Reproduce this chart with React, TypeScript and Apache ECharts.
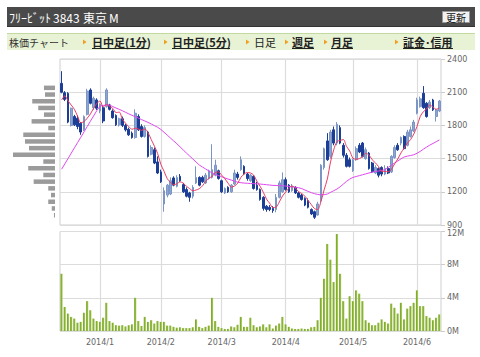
import React, { useEffect, useRef } from "react";
import * as echarts from "echarts";

const dates = [
  "2013/12/12","2013/12/13","2013/12/16","2013/12/17","2013/12/18","2013/12/19","2013/12/20","2013/12/24","2013/12/25","2013/12/26","2013/12/27","2013/12/30",
  "2014/1/6","2014/1/7","2014/1/8","2014/1/9","2014/1/10","2014/1/14","2014/1/15","2014/1/16","2014/1/17","2014/1/20","2014/1/21","2014/1/22","2014/1/23","2014/1/24","2014/1/27","2014/1/28","2014/1/29","2014/1/30","2014/1/31",
  "2014/2/3","2014/2/4","2014/2/5","2014/2/6","2014/2/7","2014/2/10","2014/2/12","2014/2/13","2014/2/14","2014/2/17","2014/2/18","2014/2/19","2014/2/20","2014/2/21","2014/2/24","2014/2/25","2014/2/26","2014/2/27","2014/2/28",
  "2014/3/3","2014/3/4","2014/3/5","2014/3/6","2014/3/7","2014/3/10","2014/3/11","2014/3/12","2014/3/13","2014/3/14","2014/3/17","2014/3/18","2014/3/19","2014/3/20","2014/3/24","2014/3/25","2014/3/26","2014/3/27","2014/3/28","2014/3/31",
  "2014/4/1","2014/4/2","2014/4/3","2014/4/4","2014/4/7","2014/4/8","2014/4/9","2014/4/10","2014/4/11","2014/4/14","2014/4/15","2014/4/16","2014/4/17","2014/4/18","2014/4/21","2014/4/22","2014/4/23","2014/4/24","2014/4/25","2014/4/28","2014/4/30",
  "2014/5/1","2014/5/2","2014/5/7","2014/5/8","2014/5/9","2014/5/12","2014/5/13","2014/5/14","2014/5/15","2014/5/16","2014/5/19","2014/5/20","2014/5/21","2014/5/22","2014/5/23","2014/5/26","2014/5/27","2014/5/28","2014/5/29","2014/5/30",
  "2014/6/2","2014/6/3","2014/6/4","2014/6/5","2014/6/6","2014/6/9","2014/6/10","2014/6/11",
];

const opens = [
  2180,2095,2090,1800,1880,1865,1820,1760,1900,2120,
  1960,2030,1930,1960,1970,1985,1930,1890,1805,1860,
  1800,1765,1730,1690,1880,1790,1700,1740,1540,1580,
  1470,1380,1090,1170,1180,1325,1250,1340,1265,1220,
  1190,1160,1280,1330,1330,1280,1320,1330,1350,1390,
  1300,1190,1240,1200,1270,1360,1400,1430,1360,1300,
  1340,1260,1220,1150,1070,1060,1050,1040,1150,1200,
  1310,1260,1210,1240,1190,1170,1140,1120,1040,1020,
  990,1120,1420,1660,1520,1760,1640,1780,1620,1530,
  1490,1390,1490,1620,1640,1500,1550,1460,1370,1410,
  1420,1360,1410,1380,1510,1620,1640,1700,1620,1700,
  1750,1910,1970,2090,2000,1960,2030,1880,1930,
];
const closes = [
  2100,2035,1830,1955,1805,1790,1740,1880,2110,2000,
  2045,1955,1990,1840,2120,1945,1870,1805,1860,1800,
  1760,1715,1690,1910,1760,1700,1780,1520,1600,1460,
  1370,1290,1210,1260,1300,1260,1330,1300,1200,1160,
  1150,1240,1330,1260,1290,1350,1390,1400,1440,1320,
  1200,1230,1200,1260,1370,1330,1490,1360,1320,1350,
  1230,1220,1130,1050,1040,1040,1030,1150,1280,1310,
  1220,1200,1250,1190,1150,1130,1080,1060,1000,970,
  1090,1440,1590,1490,1740,1640,1810,1640,1530,1430,
  1430,1490,1590,1560,1520,1580,1410,1380,1420,1350,
  1360,1410,1370,1520,1600,1580,1690,1590,1740,1760,
  1830,2030,2040,1960,1880,2010,1940,1940,2020,
];
const lows = [
  2090,2020,1820,1790,1795,1765,1715,1750,1890,1990,
  1940,1940,1910,1820,1960,1935,1860,1795,1790,1785,
  1745,1705,1680,1680,1750,1690,1690,1510,1530,1450,
  1360,1280,1020,1150,1170,1250,1240,1290,1190,1150,
  1110,1140,1270,1250,1280,1270,1310,1320,1340,1310,
  1190,1180,1190,1190,1260,1310,1390,1350,1300,1290,
  1220,1210,1120,1030,1020,1025,1010,1015,1140,1190,
  1210,1190,1200,1180,1140,1120,1070,1050,990,955,
  985,1100,1400,1480,1500,1620,1620,1630,1510,1420,
  1420,1380,1480,1550,1510,1490,1400,1370,1360,1330,
  1340,1350,1360,1370,1500,1570,1620,1580,1610,1690,
  1740,1900,1960,1950,1870,1950,1930,1835,1920,
];
const highs = [
  2290,2110,2100,1960,1895,1890,1830,1890,2130,2135,
  2060,2045,2000,1975,2135,1995,1945,1900,1870,1880,
  1815,1780,1745,1945,1900,1810,1800,1750,1620,1600,
  1520,1400,1240,1270,1330,1340,1350,1360,1280,1240,
  1200,1260,1430,1340,1345,1370,1400,1630,1490,1400,
  1310,1240,1250,1270,1400,1380,1520,1440,1370,1360,
  1350,1290,1230,1160,1080,1080,1070,1180,1300,1375,
  1330,1270,1270,1250,1200,1180,1150,1140,1050,1030,
  1110,1450,1600,1730,1760,1790,1830,1800,1640,1550,
  1510,1500,1610,1640,1650,1600,1560,1470,1440,1420,
  1430,1440,1430,1530,1620,1640,1700,1710,1760,1790,
  1850,2050,2060,2155,2010,2030,2040,1950,2030,
];

// volume in millions of shares
const volumes = [
  6.9,2.9,2.1,1.7,1.5,1.0,1.1,2.2,3.6,2.5,1.5,1.2,
  1.1,1.6,3.4,1.2,1.0,0.7,0.65,0.7,0.55,0.7,0.8,4.0,1.2,0.6,1.7,1.1,1.3,0.9,1.2,
  1.1,1.1,0.65,0.65,0.5,0.4,0.45,0.35,0.35,0.35,0.45,1.4,0.5,0.35,0.5,0.65,4.0,1.2,0.5,
  0.35,0.25,0.25,0.55,0.45,0.75,1.7,0.5,0.5,1.6,0.7,0.45,0.55,0.8,0.45,0.8,0.3,0.65,0.9,1.7,
  0.8,0.5,0.3,0.25,0.25,0.3,0.25,0.25,0.45,0.5,1.3,4.0,6.3,10.5,8.6,5.9,11.7,6.9,3.6,1.5,4.2,
  3.6,4.9,4.5,3.6,1.3,1.0,0.7,0.7,1.0,1.4,1.1,0.9,3.3,2.8,2.1,3.4,1.4,2.7,3.0,3.4,
  4.9,3.0,3.0,1.8,1.6,1.3,1.6,2.0,
];

// closes before the first shown day (for the 5-day average)
const priorCloses = [1850, 2050, 2150, 2000];

// 25-day moving average
const ma25 = [
  1404,1452,1500,1549,1597,1645,1693,1741,1790,1838,
  1886,1934,1975,1980,1985,1983,1970,1957,1945,1932,
  1918,1904,1891,1879,1866,1852,1840,1827,1813,1798,
  1783,1763,1738,1712,1686,1660,1634,1606,1578,1550,
  1523,1496,1469,1442,1424,1406,1388,1370,1358,1347,
  1336,1325,1315,1306,1296,1287,1282,1279,1277,1275,
  1274,1272,1270,1267,1264,1261,1258,1257,1255,1254,
  1252,1249,1245,1241,1237,1229,1216,1204,1192,1183,
  1176,1172,1174,1180,1195,1210,1225,1245,1270,1295,
  1315,1330,1338,1346,1354,1362,1370,1378,1383,1388,
  1393,1400,1420,1440,1460,1478,1498,1515,1522,1528,
  1535,1548,1565,1585,1604,1622,1637,1653,1668,
];

// volume-by-price histogram
const priceBins = ["2140","2080","2020","1960","1900","1840","1780","1720","1660","1600","1535","1475","1415","1355","1295","1235","1170","1110","1050","990"];
const priceBinVolumes = [8.5,7.7,17.5,12.9,8.5,18,5.2,24.4,23.1,20,32.3,9,20.6,9,16.4,5.2,3.1,5.2,2.5,0.8];

const priceTicks = { min: 900, max: 2400, step: 300 };
const volumeTicks = { min: 0, max: 12, step: 4 };

const title = ["ﾌﾘｰﾋﾞｯﾄ", "3843", "東京", "M"];
const navLabel = "株価チャート";
const navLinks = ["日中足(1分)", "日中足(5分)", "日足", "週足", "月足", "証金･信用"];

const isMonthStart = (i: number) =>
  i > 0 && dates[i].split("/")[1] !== dates[i - 1].split("/")[1];

export default function App() {
  const ref = useRef<HTMLDivElement>(null);
  useEffect(() => {
    const chart = echarts.init(ref.current!, null, { renderer: "svg" });
    const candleData = dates.map((_, i) => [opens[i], closes[i], lows[i], highs[i]]);
    const all = [...priorCloses, ...closes];
    const ma5 = closes.map((_, i) => {
      let s = 0;
      for (let k = 0; k < 5; k++) s += all[i + k];
      return Math.round(s / 5);
    });

    const axisFont = { color: "#666", fontSize: 8, fontFamily: "DejaVu Sans", lineHeight: 8 };
    const gridLine = { color: "#dcdcdc", width: 1.2 };
    const cjk = '"Noto Sans CJK JP"';

    const navPos = [
      { tri: 83, x: 92, w: 56, bold: true },
      { tri: 164, x: 172, w: 58, bold: true },
      { tri: 246, x: 254, w: 0, bold: false },
      { tri: 285, x: 292, w: 22, bold: true },
      { tri: 324, x: 331, w: 22, bold: true },
      { tri: 395, x: 403, w: 50, bold: true },
    ];
    const graphic: any[] = [
      { type: "rect", silent: true, shape: { x: 7, y: 7, width: 468, height: 20 }, style: { fill: "#4a4a4a" } },
      { type: "line", silent: true, shape: { x1: 7, y1: 26.5, x2: 475, y2: 26.5 }, style: { stroke: "#333", lineWidth: 1 } },
      ...[9, 53, 83, 109].map((x, k) => ({
        type: "text", silent: true, x, y: 17,
        style: { text: title[k], fill: "#fff", fontSize: 12, fontFamily: cjk, verticalAlign: "middle" },
      })),
      { type: "rect", silent: true, shape: { x: 442.5, y: 11.5, width: 27, height: 11 }, style: { fill: "#f2f2f2", stroke: "#999", lineWidth: 1 } },
      { type: "text", silent: true, x: 456, y: 17.5, style: { text: "更新", fill: "#111", fontSize: 10, fontFamily: cjk, align: "center", verticalAlign: "middle" } },
      { type: "rect", silent: true, shape: { x: 7, y: 33, width: 468, height: 17 }, style: { fill: "#e8f2d4" } },
      { type: "line", silent: true, shape: { x1: 7, y1: 33.5, x2: 475, y2: 33.5 }, style: { stroke: "#c3d9a2", lineWidth: 1 } },
      { type: "text", silent: true, x: 9, y: 42, style: { text: navLabel, fill: "#333", fontSize: 10, fontFamily: cjk, verticalAlign: "middle" } },
    ];
    navPos.forEach((p, k) => {
      graphic.push({ type: "polygon", silent: true, shape: { points: [[p.tri, 39.5], [p.tri + 3.5, 42], [p.tri, 44.5]] }, style: { fill: "#f0a020" } });
      graphic.push({ type: "text", silent: true, x: p.x, y: 42, style: { text: navLinks[k], fill: "#222", fontSize: 11, fontWeight: p.bold ? "bold" : "normal", fontFamily: cjk, verticalAlign: "middle" } });
      if (p.w > 0) graphic.push({ type: "line", silent: true, shape: { x1: p.x, y1: 48.5, x2: p.x + p.w, y2: 48.5 }, style: { stroke: "#222", lineWidth: 1 } });
    });

    chart.setOption({
      animation: false,
      grid: [
        { left: 60, top: 59, width: 381, height: 166, show: true, borderColor: "#cfcfcf", borderWidth: 1, backgroundColor: "transparent" },
        { left: 60, top: 231.5, width: 381, height: 99.5, show: true, borderColor: "#cfcfcf", borderWidth: 1, backgroundColor: "transparent" },
        { left: 0, top: 84.5, width: 55, height: 134 },
      ],
      xAxis: [
        {
          type: "category", gridIndex: 0, data: dates,
          axisLine: { show: false }, axisTick: { show: false }, axisLabel: { show: false },
          splitLine: { show: true, interval: (i: number) => isMonthStart(i), alignWithLabel: true, lineStyle: gridLine },
        },
        {
          type: "category", gridIndex: 1, data: dates,
          axisLine: { show: false }, axisTick: { show: false },
          axisLabel: { ...axisFont, interval: (i: number) => isMonthStart(i), formatter: (v: string) => v.split("/").slice(0, 2).join("/"), margin: 7 },
          splitLine: { show: true, interval: (i: number) => isMonthStart(i), alignWithLabel: true, lineStyle: gridLine },
        },
        { type: "value", gridIndex: 2, inverse: true, min: 0, max: 42.3, show: false },
      ],
      yAxis: [
        {
          type: "value", gridIndex: 0, position: "right", min: priceTicks.min, max: priceTicks.max, interval: priceTicks.step,
          axisLine: { show: false }, axisTick: { show: true, length: 4, lineStyle: { color: "#ccc" } },
          axisLabel: { ...axisFont, margin: 6, formatter: (v: number) => String(v) }, splitLine: { lineStyle: gridLine },
        },
        {
          type: "value", gridIndex: 1, position: "right", min: volumeTicks.min * 1e6, max: volumeTicks.max * 1e6, interval: volumeTicks.step * 1e6,
          axisLine: { show: false }, axisTick: { show: true, length: 4, lineStyle: { color: "#ccc" } },
          axisLabel: {
            ...axisFont, margin: 6,
            formatter: (v: number) => (v === volumeTicks.max * 1e6 ? "{top|" + v / 1e6 + "M}" : v / 1e6 + "M"),
            rich: { top: { color: "#666", fontSize: 8, fontFamily: "DejaVu Sans", lineHeight: 8, padding: [3, 0, 0, 0] } },
          },
          splitLine: { lineStyle: gridLine },
        },
        { type: "category", gridIndex: 2, data: priceBins, inverse: true, show: false },
      ],
      series: [
        { type: "bar", xAxisIndex: 2, yAxisIndex: 2, data: priceBinVolumes, barWidth: 4.5, itemStyle: { color: "#9b9b9b" }, silent: true },
        {
          type: "candlestick", xAxisIndex: 0, yAxisIndex: 0, data: candleData, barWidth: 2.2, silent: true,
          itemStyle: { color: "#8ea5d0", color0: "#1d3e97", borderColor: "#7b95c5", borderColor0: "#1d3e97", borderWidth: 1 },
        },
        { type: "line", xAxisIndex: 0, yAxisIndex: 0, data: ma25, symbol: "none", silent: true, lineStyle: { color: "#e048f0", width: 1 } },
        { type: "line", xAxisIndex: 0, yAxisIndex: 0, data: ma5, symbol: "none", smooth: 0.3, silent: true, lineStyle: { color: "#ea3c62", width: 1 } },
        {
          type: "bar", xAxisIndex: 1, yAxisIndex: 1, data: volumes.map((v) => v * 1e6), barWidth: 2.2, silent: true,
          itemStyle: { color: { type: "linear", x: 0, y: 0, x2: 1, y2: 0, colorStops: [{ offset: 0, color: "#7aa323" }, { offset: 0.6, color: "#8cb73a" }, { offset: 1, color: "#c2dc86" }] } },
        },
      ],
      graphic,
    });
    return () => chart.dispose();
  }, []);
  return <div ref={ref} style={{ position: "fixed", left: 0, top: 0, width: 480, height: 357, background: "#fff" }} />;
}
